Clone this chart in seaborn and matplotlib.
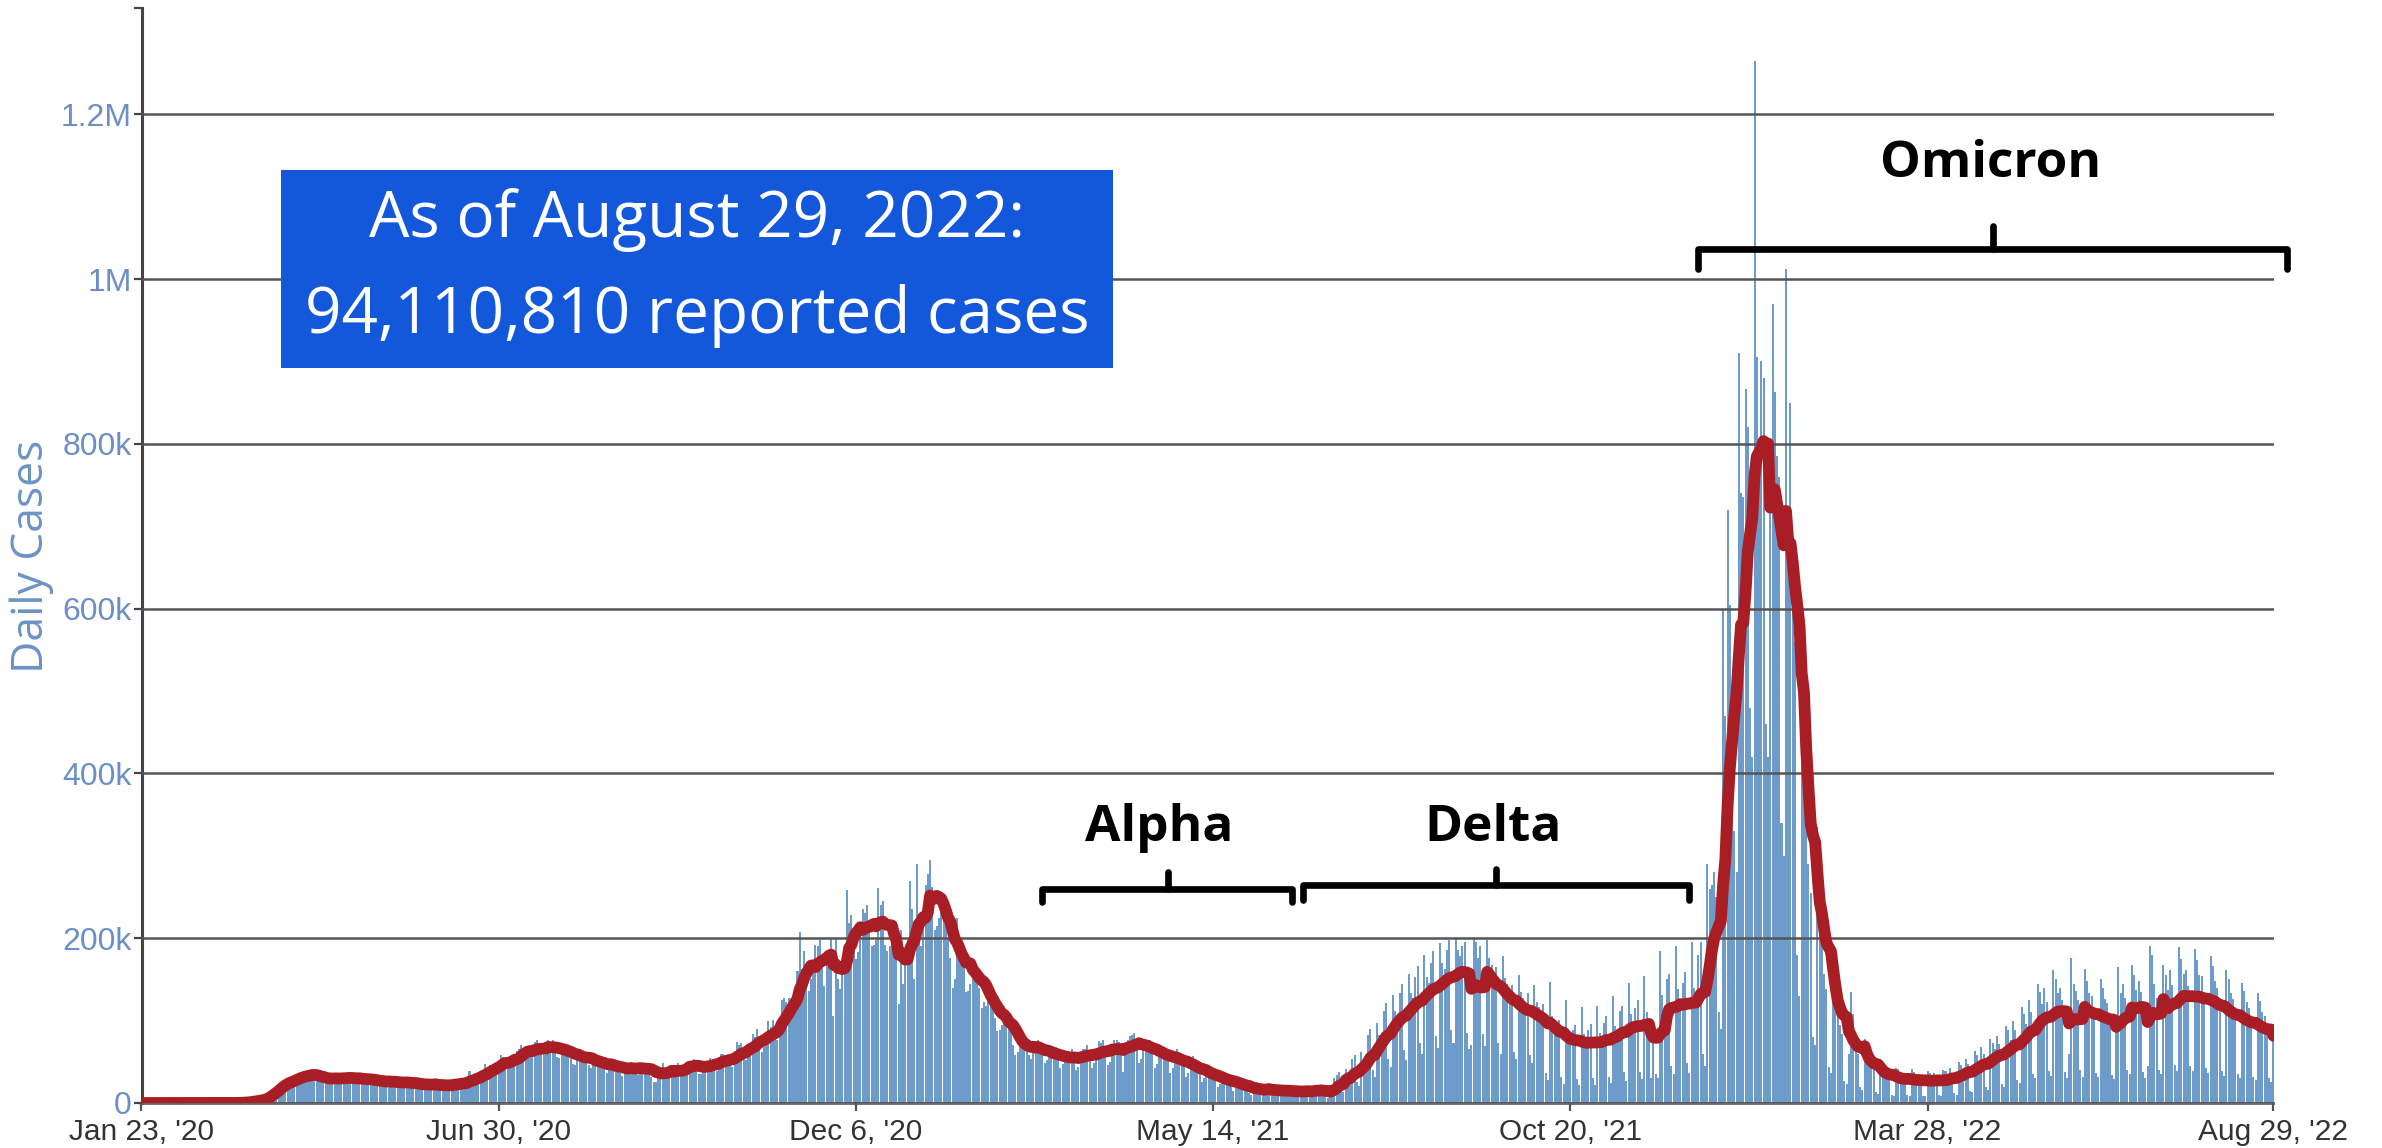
import numpy as np
import pandas as pd
import matplotlib
matplotlib.use("Agg")
import matplotlib.pyplot as plt
from matplotlib.patches import Rectangle
import seaborn as sns

sns.set_style("white")
plt.rcParams["font.family"] = ["Liberation Sans", "DejaVu Sans"]

# ---------------- data ----------------
start_date = "2020-01-23"
# Daily reported cases (thousands), one row per week, Thu..Wed, starting Thu Jan 23, 2020
daily_k = [
    0, 0, 0, 0, 0, 0, 0,
    0, 0, 0, 0, 0, 0, 0,
    0, 0, 0, 0, 0, 0, 0,
    0, 0, 0, 0, 0, 0, 0,
    0, 0, 0, 0, 0, 0, 0,
    0, 0, 0, 0.1, 0.1, 0.1, 0.2,
    0.2, 0.3, 0.5, 0.7, 1.0, 1.4, 2.0,
    2.5, 3, 3, 3.5, 4.5, 5.5, 6,
    10, 13, 16, 17, 19, 21, 23,
    26, 27, 28, 27, 26, 29, 33,
    33, 36, 35, 33, 30, 33, 38,
    33, 35, 30, 27, 26, 27, 32,
    32, 34, 31, 27, 25, 28, 33,
    33, 36, 31, 26, 24, 26, 34,
    30, 34, 29, 25, 23, 24, 31,
    28, 29, 27, 23, 21, 24, 30,
    27, 28, 25, 21, 20, 23, 31,
    26, 25, 24, 21, 17, 18, 30,
    23, 25, 23, 20, 18, 20, 25,
    22, 24, 22, 19, 18, 21, 28,
    24, 27, 25, 22, 20, 25, 39,
    30, 33, 34, 29, 28, 37, 47,
    40, 46, 44, 40, 39, 48, 58,
    56, 55, 45, 44, 48, 60, 63,
    65, 70, 63, 58, 58, 64, 63,
    74, 76, 66, 60, 58, 66, 76,
    72, 76, 65, 56, 55, 60, 71,
    68, 67, 59, 47, 46, 54, 65,
    58, 61, 55, 46, 43, 48, 53,
    52, 55, 48, 41, 36, 43, 54,
    46, 48, 44, 36, 33, 38, 49,
    46, 50, 42, 35, 34, 41, 46,
    45, 48, 41, 32, 25, 26, 42,
    38, 48, 42, 34, 33, 36, 35,
    45, 48, 43, 36, 38, 48, 50,
    47, 53, 44, 35, 35, 43, 51,
    50, 55, 49, 42, 39, 48, 60,
    60, 58, 55, 46, 44, 55, 74,
    70, 73, 62, 52, 58, 70, 84,
    80, 90, 80, 62, 68, 80, 100,
    92, 101, 90, 76, 88, 125, 128,
    122, 128, 126, 105, 118, 160, 207,
    163, 184, 167, 136, 150, 163, 192,
    190, 198, 180, 142, 168, 182, 200,
    105, 200, 150, 138, 162, 190, 259,
    218, 228, 212, 175, 183, 218, 236,
    230, 240, 215, 190, 192, 198, 261,
    240, 245, 192, 185, 190, 196, 187,
    190, 120, 210, 145, 170, 198, 269,
    235, 150, 290, 210, 190, 235, 265,
    278, 295, 262, 210, 215, 225, 251,
    235, 240, 200, 176, 140, 150, 224,
    190, 190, 165, 135, 136, 145, 173,
    168, 165, 140, 115, 122, 118, 131,
    124, 134, 103, 87, 88, 95, 118,
    102, 100, 87, 70, 58, 62, 81,
    70, 80, 72, 58, 54, 62, 73,
    77, 72, 63, 48, 52, 57, 65,
    66, 68, 57, 42, 47, 51, 61,
    62, 66, 58, 40, 44, 56, 66,
    66, 70, 63, 42, 48, 56, 75,
    73, 76, 67, 46, 50, 67, 76,
    77, 74, 68, 38, 62, 76, 81,
    82, 85, 73, 49, 53, 72, 76,
    76, 77, 63, 43, 47, 60, 68,
    66, 67, 56, 36, 42, 53, 65,
    57, 58, 48, 31, 36, 42, 57,
    47, 46, 38, 25, 30, 36, 44,
    37, 38, 30, 19, 23, 28, 35,
    30, 31, 24, 15, 18, 22, 28,
    24, 24, 17, 12, 10, 14, 25,
    19, 21, 14, 10, 13, 16, 19,
    18, 20, 12, 9, 12, 15, 19,
    17, 18, 11, 8, 11, 14, 19,
    18, 19, 11, 7, 14, 16, 20,
    20, 18, 8, 6, 8, 22, 30,
    34, 38, 16, 13, 41, 35, 33,
    53, 58, 25, 21, 62, 53, 50,
    83, 90, 40, 32, 97, 83, 79,
    112, 121, 53, 44, 131, 112, 106,
    133, 145, 64, 52, 157, 133, 128,
    153, 166, 73, 60, 180, 153, 146,
    170, 185, 81, 67, 194, 170, 163,
    186, 198, 89, 73, 200, 186, 178,
    190, 196, 85, 65, 70, 200, 196,
    176, 191, 84, 69, 198, 176, 168,
    152, 165, 73, 59, 178, 152, 145,
    135, 143, 62, 54, 155, 135, 128,
    122, 133, 58, 48, 143, 122, 116,
    110, 120, 37, 28, 147, 106, 96,
    94, 101, 31, 23, 125, 90, 82,
    88, 95, 29, 22, 117, 84, 76,
    89, 96, 30, 22, 118, 85, 78,
    97, 105, 32, 24, 130, 93, 86,
    112, 118, 38, 27, 146, 108, 95,
    115, 125, 38, 29, 154, 110, 101,
    30, 95, 35, 30, 185, 131, 110,
    150, 156, 45, 35, 190, 138, 126,
    146, 159, 49, 37, 195, 140, 128,
    180, 195, 60, 45, 290, 260, 265,
    280, 250, 110, 90, 600, 470, 720,
    604, 480, 330, 280, 910, 740, 735,
    867, 820, 480, 420, 1265, 905, 773,
    900, 880, 460, 420, 720, 970, 863,
    785, 760, 340, 300, 1012, 710, 850,
    620, 560, 180, 130, 600, 550, 370,
    290, 255, 80, 70, 335, 310, 270,
    156, 138, 44, 37, 181, 169, 150,
    95, 84, 27, 23, 60, 135, 108,
    68, 59, 19, 16, 78, 73, 65,
    46, 41, 13, 11, 54, 50, 44,
    38, 33, 10, 9, 43, 41, 36,
    35, 31, 10, 8, 41, 38, 33,
    34, 30, 9, 8, 39, 37, 32,
    36, 30, 10, 8, 40, 39, 33,
    42, 37, 12, 10, 50, 46, 41,
    54, 47, 15, 13, 63, 58, 51,
    68, 59, 19, 16, 78, 73, 65,
    81, 72, 23, 20, 94, 88, 77,
    100, 88, 28, 24, 116, 108, 96,
    125, 110, 35, 30, 145, 135, 120,
    139, 122, 39, 33, 161, 150, 133,
    140, 125, 38, 30, 60, 176, 145,
    136, 125, 40, 32, 163, 148, 133,
    130, 114, 36, 31, 151, 140, 126,
    121, 107, 34, 29, 90, 165, 133,
    144, 127, 40, 35, 167, 155, 137,
    148, 135, 38, 30, 45, 190, 180,
    144, 127, 40, 35, 167, 155, 137,
    162, 143, 46, 39, 189, 175, 156,
    161, 142, 45, 39, 187, 174, 155,
    154, 135, 43, 37, 178, 166, 148,
    139, 122, 39, 33, 161, 150, 133,
    126, 111, 35, 30, 146, 136, 123,
    115, 101, 32, 28, 133, 124, 111,
    106, 94, 30, 26, 80,
]

y_ticks_k = [0, 200, 400, 600, 800, 1000, 1200]
y_tick_labels = ["0", "200k", "400k", "600k", "800k", "1M", "1.2M"]
x_tick_dates = ["2020-01-23", "2020-06-30", "2020-12-06", "2021-05-14",
                "2021-10-20", "2022-03-28", "2022-08-29"]
x_tick_labels = ["Jan 23, '20", "Jun 30, '20", "Dec 6, '20", "May 14, '21",
                 "Oct 20, '21", "Mar 28, '22", "Aug 29, '22"]

# variant brackets
variant_names = ["Alpha", "Delta", "Omicron"]
variant_start = ["2021-02-27", "2021-06-23", "2021-12-16"]
variant_end = ["2021-06-18", "2021-12-12", "2022-09-04"]
variant_mid = ["2021-04-24", "2021-09-17", "2022-04-26"]
bracket_level_k = [260, 264, 1036]

box_lines = ["As of August 29, 2022:", "94,110,810 reported cases"]

# ---------------- frame ----------------
df = pd.DataFrame({
    "date": pd.date_range(start_date, periods=len(daily_k), freq="D"),
    "cases": daily_k,
})
df["avg7"] = df["cases"].rolling(7, min_periods=1).mean()

W, H = 2382, 1148
fig = plt.figure(figsize=(W / 100, H / 100), dpi=100)
x0, x1, y0, y1 = 141.5, 2273.5, 1103, 8
ax = fig.add_axes([x0 / W, 1 - y0 / H, (x1 - x0) / W, (y0 - y1) / H])

ax.bar(df["date"], df["cases"], width=0.9, color="#6d9bca", linewidth=0, zorder=1)
sns.lineplot(data=df, x="date", y="avg7", ax=ax, color="#a91e25", linewidth=8.5,
             zorder=3, solid_capstyle="round", solid_joinstyle="round")

ax.set_xlim(df["date"].iloc[0], df["date"].iloc[-1])
ax.set_ylim(0, 1329)
ax.set_xlabel("")
ax.set_ylabel("")

ax.set_yticks(y_ticks_k)
ax.set_yticklabels(y_tick_labels)
ax.set_yticks([1329], minor=True)
ax.set_xticks(pd.to_datetime(x_tick_dates))
ax.set_xticklabels(x_tick_labels)

ax.set_axisbelow(False)
ax.yaxis.grid(True, color="#555555", linewidth=1.8)
ax.xaxis.grid(False)
for gl in ax.yaxis.get_gridlines():
    gl.set_zorder(2)

for s in ["top", "right"]:
    ax.spines[s].set_visible(False)
ax.spines["left"].set_color("#444444")
ax.spines["left"].set_linewidth(2.2)
ax.spines["bottom"].set_color("#666666")
ax.spines["bottom"].set_linewidth(2.0)

ax.tick_params(axis="y", which="both", direction="out", length=6, width=1.6,
               color="#444444", labelsize=23, labelcolor="#6b8fc4", pad=1, left=True)
ax.tick_params(axis="x", direction="out", length=6, width=1.6, color="#555555",
               labelsize=21.5, labelcolor="#333333", pad=5, bottom=True)

fig.text(32 / W, 1 - 556 / H, "Daily Cases", rotation=90, ha="center", va="center",
         fontsize=32, color="#6b93c4", family=["Open Sans", "DejaVu Sans"])

# info box
bx0, by0, bx1, by1 = 281, 170, 1113, 368
fig.add_artist(Rectangle((bx0 / W, 1 - by1 / H), (bx1 - bx0) / W, (by1 - by0) / H,
                         transform=fig.transFigure, facecolor="#1357db",
                         edgecolor="none", zorder=5))
for txt, yy in zip(box_lines, [220, 316]):
    fig.text(697 / W, 1 - yy / H, txt, ha="center", va="center", fontsize=46,
             color="white", family=["Open Sans", "DejaVu Sans"], zorder=6)

# variant brackets and labels
label_pos = [(1159, 828), (1493, 828), (1991, 164)]
drop = [16, 18, 24]
rise = [20, 20, 28]
for name, s, e, m, lev, (lx, ly), dd, rr in zip(variant_names, variant_start, variant_end,
                                                variant_mid, bracket_level_k, label_pos, drop, rise):
    xs, xe, xm = pd.Timestamp(s), pd.Timestamp(e), pd.Timestamp(m)
    ax.plot([xs, xs, xe, xe], [lev - dd, lev, lev, lev - dd], color="black", lw=4.8,
            clip_on=False, zorder=6, solid_joinstyle="round", solid_capstyle="round")
    ax.plot([xm, xm], [lev, lev + rr], color="black", lw=4.8, clip_on=False, zorder=6,
            solid_capstyle="round")
    fig.text(lx / W, 1 - ly / H, name, ha="center", va="center", fontsize=37,
             fontweight="bold", color="black", family=["Open Sans", "DejaVu Sans"])

fig.savefig("out.png", dpi=100)
